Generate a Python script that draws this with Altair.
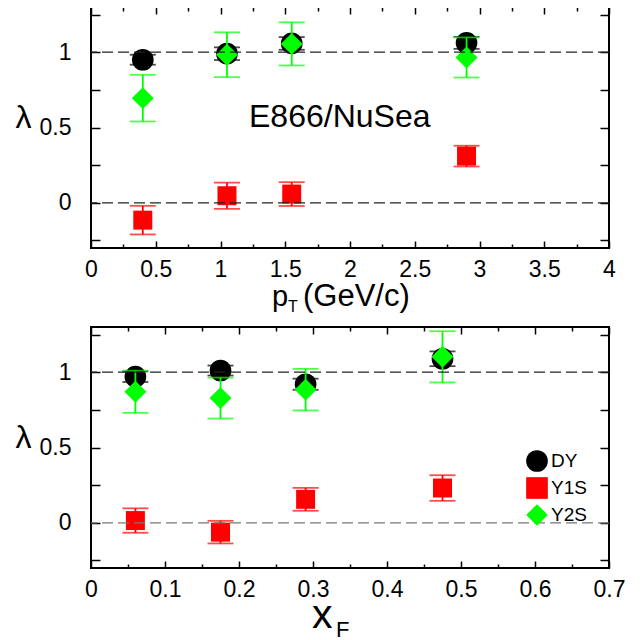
import altair as alt
import pandas as pd

FONT = "Liberation Sans"

# ---- data ----
series = ["DY", "Y1S", "Y2S"]
series_colors = ["#000000", "#ff0000", "#00ff00"]
series_shapes = ["circle", "square", "diamond"]

# top panel: lambda vs pT
pt = [0.40, 1.05, 1.55, 2.90]
pt_dy = [0.950, 0.990, 1.058, 1.062]
pt_dy_err = [0.033, 0.042, 0.042, 0.040]
pt_y1s = [-0.115, 0.047, 0.058, 0.310]
pt_y1s_err = [0.095, 0.087, 0.079, 0.069]
pt_y2s = [0.695, 0.983, 1.055, 0.965]
pt_y2s_err = [0.155, 0.149, 0.143, 0.133]

# bottom panel: lambda vs xF
xf = [0.06, 0.175, 0.29, 0.475]
xf_dy = [0.970, 1.011, 0.920, 1.089]
xf_dy_err = [0.035, 0.033, 0.037, 0.049]
xf_y1s = [0.015, -0.062, 0.156, 0.231]
xf_y1s_err = [0.081, 0.075, 0.076, 0.085]
xf_y2s = [0.870, 0.828, 0.884, 1.102]
xf_y2s_err = [0.140, 0.136, 0.138, 0.170]

ref_levels = [0, 1]

# axis ticks / labels
y_domain = [-0.3, 1.3]
y_labels = [0, 0.5, 1]
y_ticks = [-0.25, 0, 0.25, 0.5, 0.75, 1, 1.25]
pt_domain = [0, 4]
pt_major = [0, 0.5, 1, 1.5, 2, 2.5, 3, 3.5, 4]
pt_minor = [0.25, 0.75, 1.25, 1.75, 2.25, 2.75, 3.25, 3.75]
xf_domain = [0, 0.7]
xf_major = [0, 0.1, 0.2, 0.3, 0.4, 0.5, 0.6, 0.7]
xf_minor = [0.05, 0.15, 0.25, 0.35, 0.45, 0.55, 0.65]

annotation = "E866/NuSea"
y_title = "λ"


def make_df(xvals, ys, errs):
    rows = []
    for s, yv, ev in zip(series, ys, errs):
        for x, y, e in zip(xvals, yv, ev):
            rows.append({"x": x, "y": y, "lo": y - e, "hi": y + e, "series": s})
    return pd.DataFrame(rows)


df_pt = make_df(pt, [pt_dy, pt_y1s, pt_y2s], [pt_dy_err, pt_y1s_err, pt_y2s_err])
df_xf = make_df(xf, [xf_dy, xf_y1s, xf_y2s], [xf_dy_err, xf_y1s_err, xf_y2s_err])

sizes = {"DY": 470, "Y1S": 360, "Y2S": 480}
cscale = alt.Scale(domain=series, range=series_colors)
sscale = alt.Scale(domain=series, range=series_shapes)


def tick_axis(orient, vals, size):
    return alt.Axis(orient=orient, values=vals, labels=False, domain=False,
                    ticks=True, tickSize=size, offset=-size, title=None,
                    tickWidth=1.5, tickColor="black")


def panel(df, xdom, xmajor, xminor, legend, refs, texts):
    xs = alt.Scale(domain=xdom, nice=False, zero=False)
    ys = alt.Scale(domain=y_domain, nice=False, zero=False)
    base = alt.Chart(df)

    def ax(xa, ya):
        return base.mark_point(opacity=0).encode(
            x=alt.X("x:Q", scale=xs, axis=xa),
            y=alt.Y("y:Q", scale=ys, axis=ya))

    layers = [
        ax(alt.Axis(orient="bottom", values=xmajor, format="~g", ticks=False,
                    domain=False, labelPadding=10, title=None),
           alt.Axis(orient="left", values=y_labels, format="~g", ticks=False,
                    domain=False, labelPadding=20, title=y_title, titleAngle=0,
                    titleX=-68, titleY=110, titleAlign="center",
                    titleBaseline="middle", titleFontSize=32,
                    titleFontWeight="normal")),
        ax(tick_axis("bottom", xmajor, 7), tick_axis("left", y_ticks, 9)),
        ax(tick_axis("bottom", xminor, 4), tick_axis("right", y_ticks, 9)),
        ax(tick_axis("top", xmajor, 7), None),
        ax(tick_axis("top", xminor, 4), None),
    ]

    for s, c in zip(series, series_colors):
        sub = base.transform_filter(alt.datum.series == s)
        X = alt.X("x:Q", scale=xs, axis=None)
        layers.append(sub.mark_rule(color=c, strokeWidth=1.8).encode(
            x=X, y=alt.Y("lo:Q", scale=ys, axis=None), y2="hi:Q"))
        layers.append(sub.transform_fold(["lo", "hi"], as_=["end", "v"])
                      .mark_tick(orient="horizontal", size=26, thickness=1.8, color=c)
                      .encode(x=X, y=alt.Y("v:Q", scale=ys, axis=None)))
        layers.append(sub.mark_point(filled=True, opacity=1, size=sizes[s], strokeWidth=0)
                      .encode(x=X, y=alt.Y("y:Q", scale=ys, axis=None),
                              color=alt.Color("series:N", scale=cscale, legend=legend),
                              shape=alt.Shape("series:N", scale=sscale, legend=legend)))

    for lvl, col in refs:
        layers.append(alt.Chart(pd.DataFrame({"r": [lvl]}))
                      .mark_rule(color=col, strokeDash=[11, 5], strokeWidth=1.2)
                      .encode(y=alt.Y("r:Q", scale=ys, axis=None)))

    for txt, px, py, fs, align in texts:
        layers.append(alt.Chart(pd.DataFrame({"t": [txt]}))
                      .mark_text(font=FONT, fontSize=fs, align=align,
                                 baseline="alphabetic", color="black")
                      .encode(text="t:N", x=alt.value(px), y=alt.value(py)))

    return alt.layer(*layers).resolve_axis(
        x="independent", y="independent").properties(width=518, height=241)


legend = alt.Legend(orient="none", legendX=435, legendY=123, title=None,
                    labelFont=FONT, labelFontSize=19, labelColor="black",
                    symbolSize=470, symbolStrokeWidth=0, rowPadding=5,
                    labelOffset=3, padding=0)

top = panel(df_pt, pt_domain, pt_major, pt_minor, None,
            [(ref_levels[0], "#222222"), (ref_levels[1], "#222222")],
            [(annotation, 158, 120, 32, "left"),
             ("p", 181, 299, 29, "left"),
             ("T", 197, 305, 16, "left"),
             ("(GeV/c)", 212, 299, 31, "left")])

bottom = panel(df_xf, xf_domain, xf_major, xf_minor, legend,
               [(ref_levels[0], "#777777"), (ref_levels[1], "#222222")],
               [("x", 221, 301, 41, "left"),
                ("F", 245, 310, 22, "left")])

chart = (alt.vconcat(top, bottom, spacing=9)
         .resolve_legend(color="independent", shape="independent")
         .configure_view(stroke="black", strokeWidth=2)
         .configure_axis(grid=False, labelFont=FONT, labelFontSize=23,
                         labelColor="black", titleFont=FONT, titleColor="black",
                         labelFlush=False, labelOverlap=False, labelBound=False)
         .properties(background="white", padding={"left": 6, "top": -3, "right": 5, "bottom": 0}))

chart.save("out.html", embed_options={"renderer": "svg", "actions": False})
